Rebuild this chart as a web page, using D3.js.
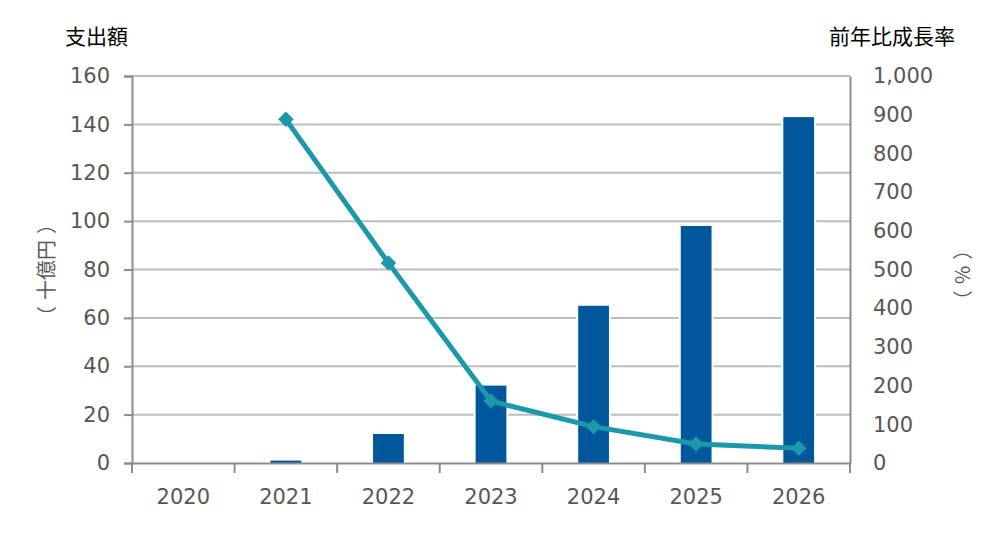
<!DOCTYPE html>
<html>
<head>
<meta charset="utf-8">
<script src="https://cdn.jsdelivr.net/npm/d3@7"></script>
<style>
  body { margin: 0; background: #fff; }
  svg { display: block; }
  .tick text { font-family: "DejaVu Sans", Verdana, sans-serif; }
</style>
</head>
<body>
<div id="chart"></div>
<script>
// data
const years = ["2020", "2021", "2022", "2023", "2024", "2025", "2026"];
const spending = [0, 1, 12, 32, 65, 98, 143];           // 十億円
const growth = [null, 888, 517, 160, 94, 49, 38];      // %
const leftTicks = [0, 20, 40, 60, 80, 100, 120, 140, 160];
const rightTicks = [0, 100, 200, 300, 400, 500, 600, 700, 800, 900, 1000];

const width = 1000, height = 536;
const margin = { top: 76, right: 150, bottom: 73, left: 132 };
const innerW = width - margin.left - margin.right;
const innerH = height - margin.top - margin.bottom;

const svg = d3.select("#chart").append("svg")
    .attr("width", width)
    .attr("height", height);

const g = svg.append("g")
    .attr("transform", `translate(${margin.left},${margin.top})`);

const x = d3.scaleBand().domain(years).range([0, innerW]).padding(0);
const yL = d3.scaleLinear().domain([0, 160]).range([innerH, 0]);
const yR = d3.scaleLinear().domain([0, 1000]).range([innerH, 0]);

const axisColor = "#8c8c8c";
const textColor = "#5a5555";

// gridlines
g.append("g")
    .selectAll("line")
    .data(leftTicks.filter(d => d > 0))
    .join("line")
    .attr("x1", 0)
    .attr("x2", innerW)
    .attr("y1", d => yL(d))
    .attr("y2", d => yL(d))
    .attr("stroke", "#bdbdbd")
    .attr("stroke-width", 2);

// bars: a white halo behind each so gridlines stop short of them
const barW = x.bandwidth() * 0.3;
const barData = years.map((y, i) => ({ year: y, v: spending[i] })).filter(d => d.v > 0);
g.append("g")
    .selectAll("rect")
    .data(barData)
    .join("rect")
    .attr("x", d => x(d.year) + x.bandwidth() / 2 - barW / 2 - 2)
    .attr("width", barW + 4)
    .attr("y", d => yL(d.v) - 2)
    .attr("height", d => innerH - yL(d.v) + 2)
    .attr("fill", "#fff");
g.append("g")
    .selectAll("rect")
    .data(barData)
    .join("rect")
    .attr("x", d => x(d.year) + x.bandwidth() / 2 - barW / 2)
    .attr("width", barW)
    .attr("y", d => yL(d.v))
    .attr("height", d => innerH - yL(d.v))
    .attr("fill", "#00579c");

// left axis
const axL = g.append("g")
    .call(d3.axisLeft(yL).tickValues(leftTicks).tickSize(8).tickPadding(14));
axL.select(".domain").attr("stroke", axisColor).attr("stroke-width", 2);
axL.selectAll(".tick line").attr("stroke", axisColor).attr("stroke-width", 2);
axL.selectAll(".tick text").attr("font-size", 21).attr("fill", textColor);

// right axis
const axR = g.append("g")
    .attr("transform", `translate(${innerW},0)`)
    .call(d3.axisRight(yR).tickValues(rightTicks).tickSize(0).tickPadding(23)
        .tickFormat(d3.format(",")));
axR.select(".domain").attr("stroke", axisColor).attr("stroke-width", 2);
axR.selectAll(".tick text").attr("font-size", 21).attr("fill", textColor);

// bottom axis, ticks on category boundaries
const axB = g.append("g")
    .attr("transform", `translate(0,${innerH})`)
    .call(d3.axisBottom(x).tickSize(0).tickPadding(26));
axB.select(".domain").attr("stroke", axisColor).attr("stroke-width", 2);
axB.selectAll(".tick text").attr("font-size", 21).attr("fill", textColor);
axB.selectAll(".bound")
    .data(d3.range(years.length + 1))
    .join("line")
    .attr("class", "bound")
    .attr("x1", i => i * x.step())
    .attr("x2", i => i * x.step())
    .attr("y1", 0)
    .attr("y2", 10)
    .attr("stroke", axisColor)
    .attr("stroke-width", 2);

// growth line
const pts = years.map((y, i) => ({ year: y, v: growth[i] })).filter(d => d.v != null);
g.append("path")
    .datum(pts)
    .attr("fill", "none")
    .attr("stroke", "#1b98a9")
    .attr("stroke-width", 5)
    .attr("stroke-linejoin", "round")
    .attr("d", d3.line()
        .x(d => x(d.year) + x.bandwidth() / 2)
        .y(d => yR(d.v)));

g.append("g")
    .selectAll("path")
    .data(pts)
    .join("path")
    .attr("d", d3.symbol().type(d3.symbolSquare).size(120))
    .attr("transform", d => `translate(${x(d.year) + x.bandwidth() / 2},${yR(d.v)}) rotate(45)`)
    .attr("fill", "#1b98a9");

// titles
const jp = "'Noto Sans CJK JP', sans-serif";
svg.append("text")
    .attr("x", 65).attr("y", 44)
    .attr("font-family", jp).attr("font-size", 21)
    .text("支出額");
svg.append("text")
    .attr("x", 955).attr("y", 44)
    .attr("text-anchor", "end")
    .attr("font-family", jp).attr("font-size", 21)
    .text("前年比成長率");

// unit labels, parens spaced out a little like the original
function unitLabel(tr, inner) {
    const t = svg.append("text")
        .attr("transform", tr)
        .attr("text-anchor", "middle")
        .attr("font-family", jp).attr("font-size", 20)
        .attr("fill", textColor);
    t.append("tspan").text("（");
    t.append("tspan").attr("dx", 6).text(inner);
    t.append("tspan").attr("dx", 6).text("）");
}
unitLabel("translate(54,270) rotate(-90)", "十億円");
unitLabel("translate(955,275) rotate(90)", "%");
</script>
</body>
</html>
